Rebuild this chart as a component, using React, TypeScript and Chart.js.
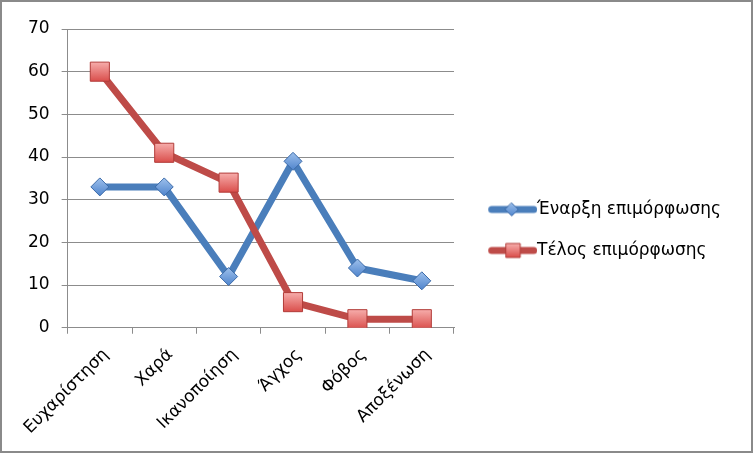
import { useEffect, useRef } from "react";
import { Chart, registerables } from "chart.js";

Chart.register(...registerables);

const categories = ["Ευχαρίστηση", "Χαρά", "Ικανοποίηση", "Άγχος", "Φόβος", "Αποξένωση"];
const startValues = [33, 33, 12, 39, 14, 11];
const endValues = [60, 41, 34, 6, 2, 2];
const seriesLabels = ["Έναρξη επιμόρφωσης", "Τέλος επιμόρφωσης"];
const yMin = 0;
const yMax = 70;
const yStep = 10;

const FONT = '"DejaVu Sans", "Noto Sans", sans-serif';
const GRID = "#8c8c8c";

const BLUE_LINE = "#4A7EBB";
const BLUE_TOP = "#9DC0EC";
const BLUE_BOTTOM = "#4F84CC";
const BLUE_BORDER = "#3B6AA8";
const RED_LINE = "#BE4B48";
const RED_TOP = "#F7AFAD";
const RED_BOTTOM = "#D94C49";
const RED_BORDER = "#B23C39";

function makeLegendIcon(kind: "diamond" | "square", line: string, top: string, bottom: string, border: string) {
  const c = document.createElement("canvas");
  c.width = 68;
  c.height = 22;
  const g = c.getContext("2d")!;
  g.strokeStyle = line;
  g.lineWidth = 7;
  g.lineCap = "round";
  g.beginPath();
  g.moveTo(22.5, 11);
  g.lineTo(64.5, 11);
  g.stroke();
  const cx = kind === "diamond" ? 42.5 : 44;
  const cy = 11;
  const grad = g.createLinearGradient(0, cy - 7, 0, cy + 7);
  grad.addColorStop(0, top);
  grad.addColorStop(1, bottom);
  g.fillStyle = grad;
  g.strokeStyle = border;
  g.lineWidth = 1;
  g.beginPath();
  if (kind === "diamond") {
    g.moveTo(cx, cy - 6.5);
    g.lineTo(cx + 6.5, cy);
    g.lineTo(cx, cy + 6.5);
    g.lineTo(cx - 6.5, cy);
    g.closePath();
  } else {
    g.rect(cx - 7, cy - 7, 14, 14);
  }
  g.fill();
  g.stroke();
  return c;
}

function pointFill(top: string, bottom: string, half: number) {
  return (ctx: any) => {
    const ys = ctx.chart?.scales?.y;
    if (!ys || ctx.type !== "data" || !ctx.parsed) return bottom;
    const py = ys.getPixelForValue(ctx.parsed.y);
    if (!isFinite(py)) return bottom;
    const g = ctx.chart.ctx.createLinearGradient(0, py - half, 0, py + half);
    g.addColorStop(0, top);
    g.addColorStop(1, bottom);
    return g;
  };
}

const legendShift = {
  id: "legendShift",
  afterLayout(chart: any) {
    const lg = chart.legend;
    if (lg) {
      lg.top -= 9;
      lg.bottom -= 9;
    }
  },
};

export default function App() {
  const ref = useRef<HTMLCanvasElement | null>(null);

  useEffect(() => {
    document.body.style.margin = "0";
    const canvas = ref.current!;
    const icons = [
      makeLegendIcon("diamond", BLUE_LINE, BLUE_TOP, BLUE_BOTTOM, BLUE_BORDER),
      makeLegendIcon("square", RED_LINE, RED_TOP, RED_BOTTOM, RED_BORDER),
    ];

    const mctx = document.createElement("canvas").getContext("2d")!;
    mctx.font = `17px ${FONT}`;
    const tw = Math.max(...seriesLabels.map((s) => mctx.measureText(s).width));
    const legendPad = 24;
    const boxW = 50.5;
    const legendWidth = legendPad + boxW + 8.5 + tw + 10;
    const targetRight = 452;
    const padRight = Math.max(0, 749 - targetRight - legendWidth);

    const chart = new Chart(canvas, {
      type: "line",
      plugins: [legendShift],
      data: {
        labels: categories,
        datasets: [
          {
            label: seriesLabels[0],
            data: startValues,
            borderColor: BLUE_LINE,
            borderWidth: 7,
            borderJoinStyle: "round",
            pointStyle: "rectRot",
            pointRadius: 9,
            pointHoverRadius: 9,
            pointBorderWidth: 1,
            pointBorderColor: BLUE_BORDER,
            pointBackgroundColor: pointFill(BLUE_TOP, BLUE_BOTTOM, 9),
            tension: 0,
            order: 1,
          },
          {
            label: seriesLabels[1],
            data: endValues,
            borderColor: RED_LINE,
            borderWidth: 7,
            borderJoinStyle: "round",
            pointStyle: "rect",
            pointRadius: 13.5,
            pointHoverRadius: 13.5,
            pointBorderWidth: 1,
            pointBorderColor: RED_BORDER,
            pointBackgroundColor: pointFill(RED_TOP, RED_BOTTOM, 10),
            tension: 0,
            order: 0,
          },
        ],
      },
      options: {
        responsive: false,
        animation: false,
        layout: { padding: { top: 27, left: 14, right: padRight, bottom: 2 } },
        plugins: {
          tooltip: { enabled: false },
          legend: {
            position: "right",
            align: "center",
            maxWidth: 400,
            labels: {
              usePointStyle: true,
              pointStyleWidth: boxW,
              padding: legendPad,
              color: "#000",
              font: { family: FONT, size: 17 },
              sort: (a: any, b: any) => a.datasetIndex - b.datasetIndex,
              generateLabels: (ch: any) => {
                const items = Chart.defaults.plugins.legend.labels.generateLabels(ch);
                return items.map((it: any) => ({ ...it, pointStyle: icons[it.datasetIndex] }));
              },
            },
          },
        },
        scales: {
          x: {
            offset: true,
            grid: {
              display: true,
              offset: true,
              drawOnChartArea: false,
              drawTicks: true,
              tickLength: 6,
              color: GRID,
            },
            border: { color: GRID, width: 1 },
            ticks: {
              color: "#000",
              font: { family: FONT, size: 17 },
              minRotation: 45,
              maxRotation: 45,
              padding: 11,
              labelOffset: 6,
              autoSkip: false,
            },
          },
          y: {
            min: yMin,
            max: yMax,
            grid: { color: GRID, tickLength: 6, drawTicks: true },
            border: { color: GRID, width: 1 },
            ticks: {
              stepSize: yStep,
              color: "#000",
              font: { family: FONT, size: 17 },
              padding: 12,
            },
          },
        },
      },
    });
    return () => chart.destroy();
  }, []);

  return (
    <div
      style={{
        position: "fixed",
        left: 0,
        top: 0,
        width: 753,
        height: 453,
        boxSizing: "border-box",
        border: "2px solid #8a8a8a",
        background: "#fff",
      }}
    >
      <canvas ref={ref} width={749} height={449} style={{ display: "block", width: 749, height: 449 }} />
    </div>
  );
}
